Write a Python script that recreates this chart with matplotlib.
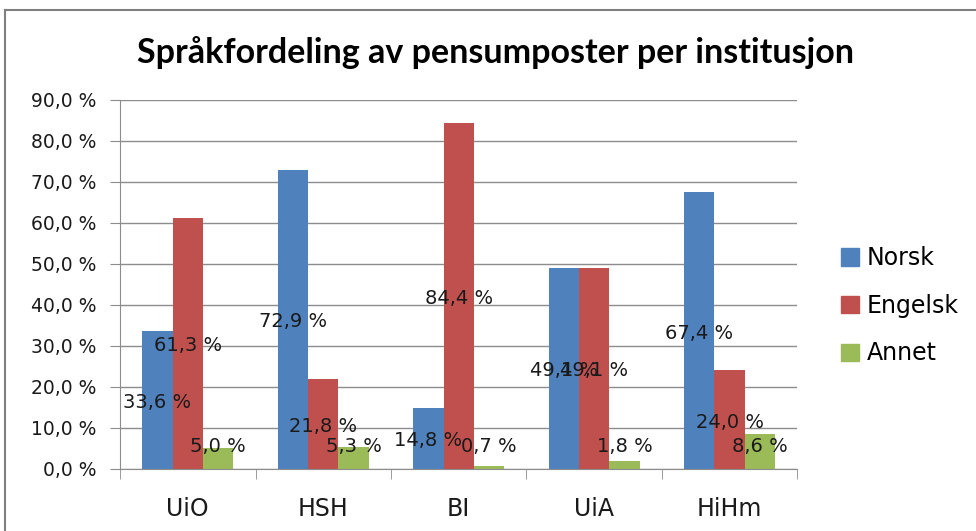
import numpy as np
import matplotlib
matplotlib.use("Agg")
import matplotlib.pyplot as plt
from matplotlib.lines import Line2D

categories = ["UiO", "HSH", "BI", "UiA", "HiHm"]
norsk = [33.6, 72.9, 14.8, 49.1, 67.4]
engelsk = [61.3, 21.8, 84.4, 49.1, 24.0]
annet = [5.0, 5.3, 0.7, 1.8, 8.6]
series_names = ["Norsk", "Engelsk", "Annet"]
colors = ["#4F81BD", "#C0504D", "#9BBB59"]
yticks = [0, 10, 20, 30, 40, 50, 60, 70, 80, 90]


def pct(v):
    return ("%.1f" % v).replace(".", ",") + " %"


fig = plt.figure(figsize=(9.76, 5.31), dpi=100)
ax = fig.add_axes([0.123, 0.117, 0.694, 0.695])

x = np.arange(len(categories))
w = 0.224
grey = "#8c8c8c"

ax.set_axisbelow(True)
ax.yaxis.grid(True, color=grey, lw=1)

for i, (vals, name, col) in enumerate(zip([norsk, engelsk, annet], series_names, colors)):
    xs = x + (i - 1) * w
    ax.bar(xs, vals, w, color=col, label=name)
    for xi, v in zip(xs, vals):
        # Excel-ish centred labels, kept off the axis for small bars
        yl = max(v / 2 - 0.6, 5.4)
        ax.text(xi, yl, pct(v), ha="center", va="center", fontsize=14, color="#1a1a1a")

ax.set_xlim(-0.5, len(categories) - 0.5)
ax.set_ylim(0, 90)
ax.set_yticks(yticks)
ax.set_yticklabels([pct(t) for t in yticks], fontsize=13.5, color="#1a1a1a")
ax.set_xticks(x)
ax.set_xticklabels(categories, fontsize=17, color="#1a1a1a")
ax.set_xticks(np.arange(len(categories) + 1) - 0.5, minor=True)
ax.tick_params(axis="x", which="major", length=0, pad=20)
ax.tick_params(axis="x", which="minor", length=7, color=grey)
ax.tick_params(axis="y", length=7, color=grey, pad=10)

for s in ["top", "right"]:
    ax.spines[s].set_visible(False)
for s in ["left", "bottom"]:
    ax.spines[s].set_color(grey)

handles = [plt.Rectangle((0, 0), 1, 1, color=c) for c in colors]
fig.legend(handles, series_names, loc="center left", bbox_to_anchor=(0.84, 0.424),
           frameon=False, fontsize=17, handlelength=0.75, handleheight=0.75,
           handletextpad=0.35, labelspacing=1.0)

fig.text(0.508, 0.902, "Språkfordeling av pensumposter per institusjon",
         ha="center", va="center", fontsize=24.5, fontweight="bold", family="Lato")

# chart area border
fig.add_artist(Line2D([0.005, 0.005], [0, 0.981], color="#7f7f7f", lw=1.5))
fig.add_artist(Line2D([0.005, 1.0], [0.981, 0.981], color="#7f7f7f", lw=1.5))

fig.savefig("out.png", dpi=100)
